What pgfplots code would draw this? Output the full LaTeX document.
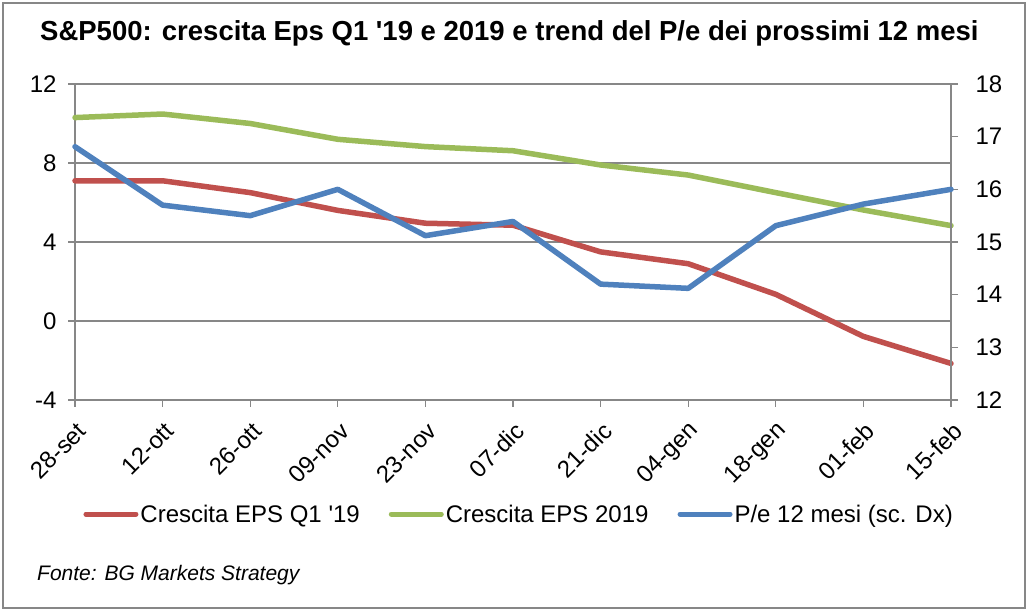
\documentclass[border=0pt]{standalone}
\usepackage{pgfplots}
\pgfplotsset{compat=1.18}
\usepackage{fontspec}
\setmainfont{Liberation Sans}
\definecolor{cred}{HTML}{C0504D}
\definecolor{cgreen}{HTML}{9BBB59}
\definecolor{cblue}{HTML}{4F81BD}
\definecolor{cgrid}{HTML}{878787}
\pgfplotstableread{
x red green blue
0 7.10 10.30 16.81
1 7.10 10.48 15.70
2 6.50 10.00 15.50
3 5.60 9.20 16.00
4 4.95 8.83 15.12
5 4.85 8.62 15.39
6 3.50 7.90 14.20
7 2.90 7.39 14.12
8 1.35 6.50 15.31
9 -0.78 5.62 15.72
10 -2.15 4.83 16.00
}\datatab
\begin{document}
\begin{tikzpicture}
\path[use as bounding box] (0bp,0bp) rectangle (1029bp,611bp);
\draw[cgrid, line width=1.2bp] (3bp,3bp) rectangle (1025bp,608bp);
\node[anchor=base west, inner sep=0pt, font=\fontsize{27.5bp}{32bp}\selectfont\bfseries] at (40bp,570bp) {S\&P500: crescita Eps Q1 \textquotesingle19 e 2019 e trend del P/e dei prossimi 12 mesi};
\node[anchor=base west, inner sep=0pt, font=\fontsize{21bp}{25bp}\selectfont\itshape] at (37bp,31bp) {Fonte: BG Markets Strategy};
\pgfplotsset{
  common/.style={
    at={(75bp,211bp)}, anchor=south west,
    scale only axis, width=876bp, height=316bp,
    xmin=0, xmax=10,
    axis line style={cgrid, line width=1.2bp},
    tick style={cgrid, line width=1.2bp},
    tick align=outside, major tick length=7bp,
    ticklabel style={font=\fontsize{24bp}{28bp}\selectfont},
    /pgf/number format/assume math mode=true,
    clip=false,
  },
  lw/.style={line width=5.5bp, line join=round, line cap=round},
}
\begin{axis}[
  common,
  ymin=-4, ymax=12, ytick={-4,0,4,8,12},
  xtick={0,...,10},
  xticklabels={28-set,12-ott,26-ott,09-nov,23-nov,07-dic,21-dic,04-gen,18-gen,01-feb,15-feb},
  axis x line*=bottom, axis y line*=left,
  ymajorgrids, grid style={cgrid, line width=1.2bp},
  xticklabel style={xshift=7bp, yshift=-20bp, rotate=45, anchor=east, inner sep=0pt},
  yticklabel style={xshift=-8bp},
]
\addplot[cred, lw] table[x=x, y=red] {\datatab};
\addplot[cgreen, lw] table[x=x, y=green] {\datatab};
\end{axis}
\begin{axis}[
  common,
  ymin=12, ymax=18, ytick={12,...,18},
  axis x line=none, axis y line*=right,
  yticklabel style={xshift=14bp},
  legend style={at={(0.507,-0.361)}, anchor=center, draw=none, fill=none,
    legend columns=3, font=\fontsize{24bp}{28bp}\selectfont,
    /tikz/every even column/.append style={column sep=27bp},
    inner sep=0pt},
  legend cell align=left,
  legend image code/.code={\draw[#1, line width=5bp, line cap=round] (1bp,0) -- (51bp,0);},
]
\addlegendimage{cred}
\addlegendentry{Crescita EPS Q1 \textquotesingle19}
\addlegendimage{cgreen}
\addlegendentry{Crescita EPS 2019}
\addplot[cblue, lw] table[x=x, y=blue] {\datatab};
\addlegendentry{P/e 12 mesi (sc. Dx)}
\end{axis}
\end{tikzpicture}
\end{document}
